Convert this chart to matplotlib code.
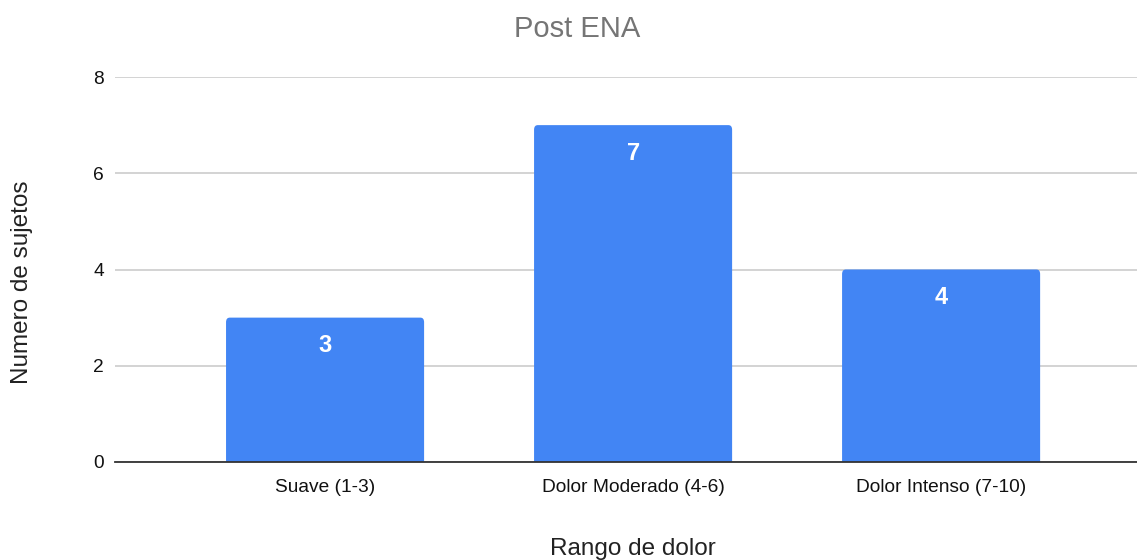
import matplotlib
matplotlib.use("Agg")
import matplotlib.pyplot as plt
from matplotlib.patches import FancyBboxPatch

categories = ["Suave (1-3)", "Dolor Moderado (4-6)", "Dolor Intenso (7-10)"]
values = [3, 7, 4]
yticks = [0, 2, 4, 6, 8]

plt.rcParams["font.family"] = ["Liberation Sans", "DejaVu Sans"]

W, H = 1137, 560
fig = plt.figure(figsize=(W / 100, H / 100), dpi=100)
ax = fig.add_axes([115 / W, 1 - 462 / H, (W - 115) / W, (462 - 77) / H])

bar_color = "#4285F4"
width = 0.643
x = list(range(len(categories)))
bars = ax.bar(x, values, width=width, color=bar_color, zorder=3)

# round the top corners slightly
for b in list(bars):
    b.set_visible(False)
    patch = FancyBboxPatch((b.get_x(), b.get_y() - 0.5), b.get_width(), b.get_height() + 0.5,
                           boxstyle="round,pad=0,rounding_size=0.012",
                           mutation_aspect=8.0,
                           facecolor=bar_color, edgecolor="none", zorder=3, clip_on=True)
    ax.add_patch(patch)

for xi, v in zip(x, values):
    ax.text(xi, v - 0.58, str(v), ha="center", va="center", color="white",
            fontsize=17, fontweight="bold", zorder=4)

ax.set_xlim(-0.682, 2.636)
ax.set_ylim(0, 8)
ax.set_yticks(yticks)
ax.set_xticks(x)
ax.set_xticklabels(categories)
ax.grid(axis="y", color="#cccccc", linewidth=1.2, zorder=0)
ax.set_axisbelow(True)
for s in ["top", "right", "left"]:
    ax.spines[s].set_visible(False)
ax.spines["bottom"].set_color("#333333")
ax.spines["bottom"].set_linewidth(1.3)
ax.spines["bottom"].set_zorder(5)
ax.tick_params(axis="both", length=0, labelsize=13.8, colors="#111111")
ax.tick_params(axis="y", pad=8)
ax.tick_params(axis="x", pad=12)

fig.text(633 / W, 1 - 549 / H, "Rango de dolor", ha="center", va="center",
         fontsize=17.5, color="#222222")
fig.text(22 / W, 1 - 282 / H, "Numero de sujetos", ha="center", va="center",
         rotation=90, fontsize=17.5, color="#222222")
fig.text(577 / W, 1 - 29 / H, "Post ENA", ha="center", va="center",
         fontsize=21, color="#757575")

fig.savefig("out.png", dpi=100, facecolor="white")
